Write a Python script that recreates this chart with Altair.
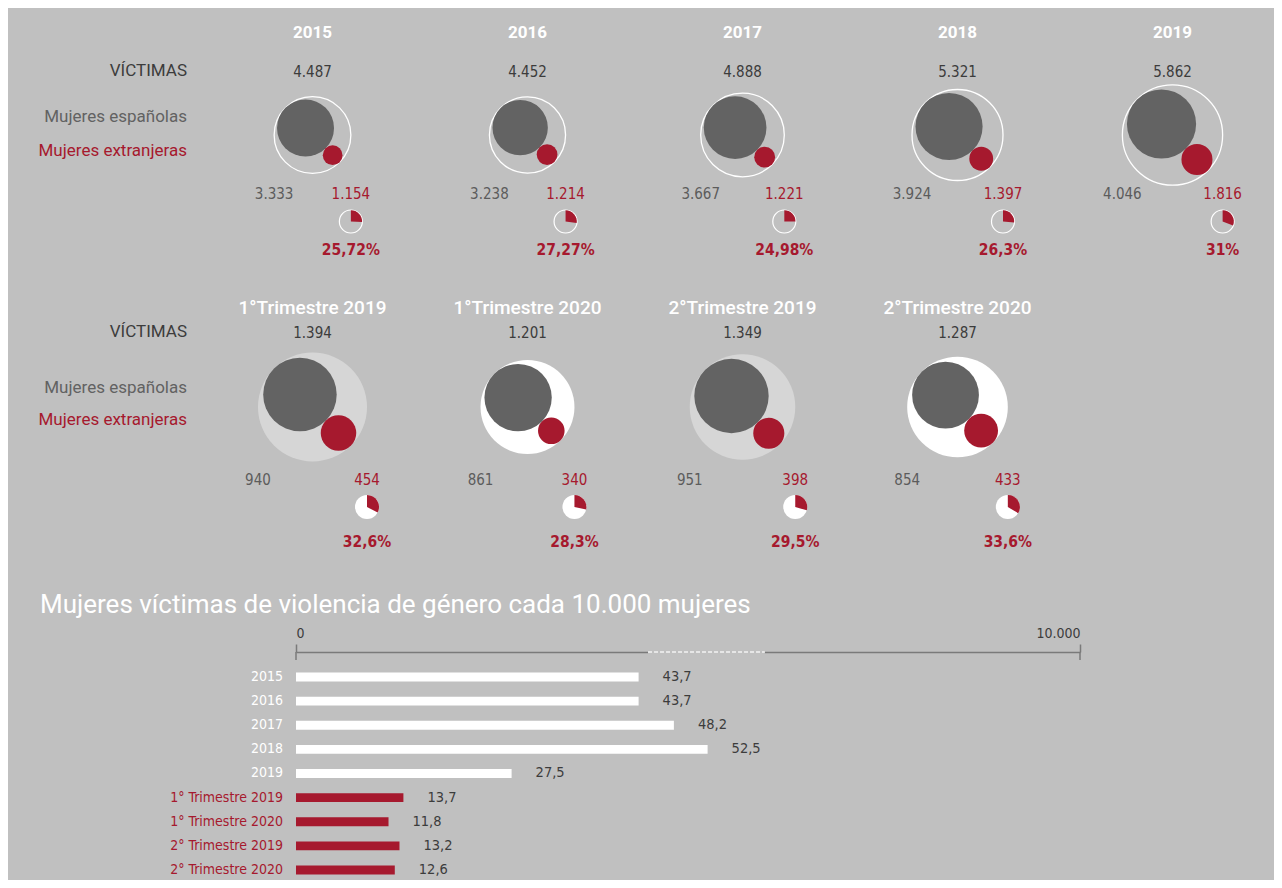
import math
import altair as alt
import pandas as pd

# ---------------- data ----------------
years = ["2015", "2016", "2017", "2018", "2019"]
victims_years = [4487, 4452, 4888, 5321, 5862]
spanish_years = [3333, 3238, 3667, 3924, 4046]
foreign_years = [1154, 1214, 1221, 1397, 1816]
pct_years = [25.72, 27.27, 24.98, 26.3, 31]

quarters = ["1°Trimestre 2019", "1°Trimestre 2020", "2°Trimestre 2019", "2°Trimestre 2020"]
victims_quarters = [1394, 1201, 1349, 1287]
spanish_quarters = [940, 861, 951, 854]
foreign_quarters = [454, 340, 398, 433]
pct_quarters = [32.6, 28.3, 29.5, 33.6]
quarter_fill = ["hatch", "white", "hatch", "white"]

bar_labels = ["2015", "2016", "2017", "2018", "2019",
              "1° Trimestre 2019", "1° Trimestre 2020", "2° Trimestre 2019", "2° Trimestre 2020"]
bar_values = [43.7, 43.7, 48.2, 52.5, 27.5, 13.7, 11.8, 13.2, 12.6]
bar_group = ["año"] * 5 + ["trimestre"] * 4
axis_ticks = [0, 100]
axis_tick_labels = ["0", "10.000"]
axis_break = [44.9, 59.8]

# ---------------- style ----------------
BG = "#c0c0c0"
RED = "#a6192e"
DARK = "#3c3c3c"
MID = "#5c5c5c"
GRAYC = "#636363"
NARROW = "Liberation Sans Narrow, DejaVu Sans Condensed, sans-serif"
SANS = "Roboto, Liberation Sans, sans-serif"

W = 1266
HA = 618
X0, DX = 312.5, 215
C45 = math.cos(math.pi / 4)

ROW1 = dict(cy=135, k=0.00855, title_y=33, vict_y=71.5, lab_y=194, pie_y=221.5,
            pct_y=250, pie_r=11.5, lab1=71, lab2=117, lab3=151, dmax=6000)
ROW2 = dict(cy=407, k=0.0391, title_y=308, vict_y=332.5, lab_y=480, pie_y=507,
            pct_y=541.5, pie_r=12, lab1=332, lab2=388, lab3=420, dmax=1500)


def thousands(v):
    return f"{v:,}".replace(",", ".")


def dec(v):
    return ("%g" % v).replace(".", ",")


def frames(names, totals, esp, ext, pct, cfg, fills):
    panels, circles = [], []
    k, cy = cfg["k"], cfg["cy"]
    for i, n in enumerate(names):
        cx = X0 + DX * i
        R = k * totals[i]
        de = (R - k * esp[i]) * C45
        dx = (R - k * ext[i]) * C45
        circles.append(dict(kind="outer", x=cx, y=cy, value=totals[i], fill=fills[i]))
        circles.append(dict(kind="esp", x=cx - de, y=cy - de, value=esp[i], fill=fills[i]))
        circles.append(dict(kind="ext", x=cx + dx, y=cy + dx, value=ext[i], fill=fills[i]))
        panels.append(dict(name=n, cx=cx, left=cx - R, right=cx + R,
                           title_y=cfg["title_y"], vict_y=cfg["vict_y"], lab_y=cfg["lab_y"],
                           pie_y=cfg["pie_y"], pct_y=cfg["pct_y"],
                           vict=thousands(totals[i]), esp=thousands(esp[i]),
                           ext=thousands(ext[i]), pct=pct[i], p0=0,
                           pct_txt=dec(pct[i]) + "%", fill=fills[i]))
    return pd.DataFrame(panels), pd.DataFrame(circles)


p1, c1 = frames(years, victims_years, spanish_years, foreign_years, pct_years, ROW1, ["line"] * 5)
p2, c2 = frames(quarters, victims_quarters, spanish_quarters, foreign_quarters, pct_quarters, ROW2, quarter_fill)

xs = alt.Scale(domain=[8, 8 + W])
ys = alt.Scale(domain=[8, 8 + HA], reverse=True)
th = alt.Scale(domain=[0, 100], range=[0, 2 * math.pi])


def X(f):
    return alt.X(f, type="quantitative", scale=xs, axis=None)


def Y(f):
    return alt.Y(f, type="quantitative", scale=ys, axis=None)


def size_scale(cfg):
    return alt.Scale(type="pow", exponent=2, domain=[0, cfg["dmax"]],
                     range=[0, (2 * cfg["k"] * cfg["dmax"]) ** 2])


layers = []
for cfg, pdf, cdf, filled in [(ROW1, p1, c1, False), (ROW2, p2, c2, True)]:
    ss = size_scale(cfg)
    base_c = alt.Chart(cdf)
    outer = base_c.transform_filter(alt.datum.kind == "outer")
    if filled:
        layers.append(outer.mark_circle(opacity=1).encode(
            x=X("x"), y=Y("y"),
            size=alt.Size("value:Q", scale=ss, legend=None),
            color=alt.Color("fill:N", scale=alt.Scale(domain=["hatch", "white"],
                                                      range=["#d6d6d6", "#ffffff"]), legend=None)))
    else:
        layers.append(outer.mark_point(shape="circle", filled=False, stroke="white",
                                       strokeWidth=1.3, opacity=1).encode(
            x=X("x"), y=Y("y"), size=alt.Size("value:Q", scale=ss, legend=None)))
    layers.append(base_c.transform_filter(alt.datum.kind == "esp").mark_circle(
        color=GRAYC, opacity=1).encode(
        x=X("x"), y=Y("y"), size=alt.Size("value:Q", scale=ss, legend=None)))
    layers.append(base_c.transform_filter(alt.datum.kind == "ext").mark_circle(
        color=RED, opacity=1).encode(
        x=X("x"), y=Y("y"), size=alt.Size("value:Q", scale=ss, legend=None)))

    base_p = alt.Chart(pdf)
    pr = cfg["pie_r"]
    if filled:
        layers.append(base_p.mark_circle(color="white", opacity=1, size=(2 * pr) ** 2).encode(
            x=X("right"), y=Y("pie_y")))
    else:
        layers.append(base_p.mark_point(shape="circle", filled=False, stroke="white",
                                        strokeWidth=1.2, opacity=1, size=(2 * pr) ** 2).encode(
            x=X("right"), y=Y("pie_y")))
    layers.append(base_p.mark_arc(color=RED, outerRadius=pr - (0 if filled else 0.3)).encode(
        x=X("right"), y=Y("pie_y"),
        theta=alt.Theta("p0:Q", scale=th), theta2="pct:Q"))

    # texts
    if filled:
        layers.append(base_p.mark_text(font=SANS, fontSize=19, fontWeight=500,
                                       color="white", baseline="middle").encode(
            x=X("cx"), y=Y("title_y"), text="name:N"))
    else:
        layers.append(base_p.mark_text(font=SANS, fontSize=17, fontWeight="bold",
                                       color="white", baseline="middle").encode(
            x=X("cx"), y=Y("title_y"), text="name:N"))
    layers.append(base_p.mark_text(font=NARROW, fontSize=15, color=DARK, baseline="middle").encode(
        x=X("cx"), y=Y("vict_y"), text="vict:N"))
    layers.append(base_p.mark_text(font=NARROW, fontSize=15, color=MID, baseline="middle").encode(
        x=X("left"), y=Y("lab_y"), text="esp:N"))
    layers.append(base_p.mark_text(font=NARROW, fontSize=15, color=RED, baseline="middle").encode(
        x=X("right"), y=Y("lab_y"), text="ext:N"))
    layers.append(base_p.mark_text(font=NARROW, fontSize=15.5, fontWeight="bold", color=RED,
                                   baseline="middle").encode(
        x=X("right"), y=Y("pct_y"), text="pct_txt:N"))

    rl = pd.DataFrame(dict(
        t=["VÍCTIMAS", "Mujeres españolas", "Mujeres extranjeras"],
        y=[cfg["lab1"], cfg["lab2"], cfg["lab3"]],
        c=["v", "e", "x"], x=[187, 187, 187]))
    layers.append(alt.Chart(rl).mark_text(font=SANS, fontSize=17, align="right",
                                          baseline="middle").encode(
        x=X("x"), y=Y("y"), text="t:N",
        color=alt.Color("c:N", scale=alt.Scale(domain=["v", "e", "x"],
                                               range=[DARK, "#626262", RED]), legend=None)))

sec = pd.DataFrame(dict(t=["Mujeres víctimas de violencia de género cada 10.000 mujeres"],
                        x=[40], y=[605]))
layers.append(alt.Chart(sec).mark_text(font=SANS, fontSize=26, color="white", align="left",
                                       baseline="middle").encode(
    x=X("x"), y=Y("y"), text="t:N"))

top = alt.layer(*layers).resolve_scale(size="independent", color="independent").properties(
    width=W, height=HA)

# ---------------- bar chart ----------------
bars = pd.DataFrame(dict(label=bar_labels, value=bar_values, group=bar_group,
                         vtxt=[dec(v) for v in bar_values], zero=[0] * len(bar_values)))
label_expr = " : ".join(
    [f"datum.value == {v} ? '{t}'" for v, t in zip(axis_ticks[:-1], axis_tick_labels[:-1])]
    + [f"'{axis_tick_labels[-1]}'"])
bx = alt.Scale(domain=[0, 100], range=[288, 1072])
xaxis = alt.Axis(orient="top", values=axis_ticks, labelExpr=label_expr, title=None, grid=False,
                 domainColor="#7a7a7a", domainWidth=1.5, tickColor="#7a7a7a", tickWidth=1.5,
                 tickSize=8, labelFont=NARROW, labelFontSize=14, labelColor=DARK, labelPadding=4)
by = alt.Scale(paddingInner=0.63, paddingOuter=0.54, align=0.787)
gcol = alt.Scale(domain=["año", "trimestre"], range=["#ffffff", RED])
HB = 228

bb = alt.Chart(bars)
bar_layer = bb.mark_bar().encode(
    x=alt.X("value:Q", scale=bx, axis=xaxis), x2=alt.X2("zero:Q"),
    y=alt.Y("label:N", sort=bar_labels, scale=by, axis=None),
    color=alt.Color("group:N", scale=gcol, legend=None))
cat_layer = bb.mark_text(font=NARROW, fontSize=14, align="right", dx=-13, baseline="middle").encode(
    x=alt.X("zero:Q", scale=bx, axis=xaxis),
    y=alt.Y("label:N", sort=bar_labels, scale=by, axis=None),
    text="label:N",
    color=alt.Color("group:N", scale=gcol, legend=None))
val_layer = bb.mark_text(font=NARROW, fontSize=14.5, align="left", dx=24, baseline="middle",
                         color=DARK).encode(
    x=alt.X("value:Q", scale=bx, axis=xaxis),
    y=alt.Y("label:N", sort=bar_labels, scale=by, axis=None),
    text="vtxt:N")
ticks_df = pd.DataFrame(dict(t=axis_ticks))
tick_layer = alt.Chart(ticks_df).mark_rule(color="#7a7a7a", strokeWidth=1.5).encode(
    x=alt.X("t:Q", scale=bx, axis=xaxis), y=alt.value(0), y2=alt.value(8))
brk = pd.DataFrame(dict(a=[axis_break[0]], b=[axis_break[1]]))
brk_hide = alt.Chart(brk).mark_rule(color=BG, strokeWidth=4).encode(
    x=alt.X("a:Q", scale=bx, axis=xaxis), x2="b:Q", y=alt.value(0))
brk_dash = alt.Chart(brk).mark_rule(color="#f2f2f2", strokeWidth=1.5, strokeDash=[4, 2]).encode(
    x=alt.X("a:Q", scale=bx, axis=xaxis), x2="b:Q", y=alt.value(0))

bottom = alt.layer(bar_layer, cat_layer, val_layer, tick_layer, brk_hide, brk_dash).properties(
    width=W, height=HB)

chart = alt.vconcat(top, bottom, spacing=0).properties(background=BG, padding=0).configure_view(
    stroke=None)

chart.save("out.html", embed_options={"renderer": "svg", "actions": False})
